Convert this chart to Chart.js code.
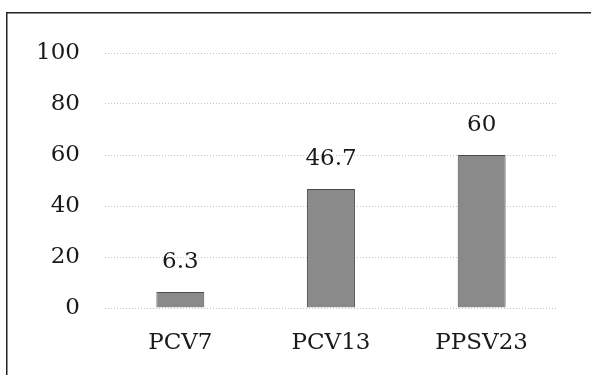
<!DOCTYPE html>
<html>
<head>
<meta charset="utf-8">
<script src="https://cdn.jsdelivr.net/npm/chart.js@4/dist/chart.umd.min.js"></script>
<style>
  html, body { margin: 0; padding: 0; background: #fff; }
  #wrap { width: 591px; height: 375px; position: relative; }
</style>
</head>
<body>
<div id="wrap"><canvas id="c" width="591" height="375"></canvas></div>
<script>
// Vaccine categories and their values (%)
const categories = ['PCV7', 'PCV13', 'PPSV23'];
const values = [6.3, 46.7, 60];
const yTicks = [0, 20, 40, 60, 80, 100];

const serif = '"DejaVu Serif", "Liberation Serif", serif';

// Left/top frame line around the figure
const framePlugin = {
  id: 'frame',
  afterDraw(chart) {
    const ctx = chart.ctx;
    ctx.save();
    ctx.strokeStyle = '#222';
    ctx.lineWidth = 1.5;
    ctx.beginPath();
    ctx.moveTo(6.75, chart.height);
    ctx.lineTo(6.75, 12.75);
    ctx.lineTo(chart.width, 12.75);
    ctx.stroke();
    ctx.restore();
  }
};

// Value labels above each bar
const valueLabels = {
  id: 'valueLabels',
  afterDatasetsDraw(chart) {
    const ctx = chart.ctx;
    const meta = chart.getDatasetMeta(0);
    ctx.save();
    ctx.font = '23px ' + serif;
    ctx.fillStyle = '#1a1a1a';
    ctx.textAlign = 'center';
    ctx.textBaseline = 'middle';
    meta.data.forEach((bar, i) => {
      ctx.fillText(String(values[i]), bar.x, bar.y - 30);
    });
    ctx.restore();
  }
};

new Chart(document.getElementById('c'), {
  type: 'bar',
  data: {
    labels: categories,
    datasets: [{
      data: values,
      backgroundColor: '#8a8a8a',
      borderColor: '#4a4a4a',
      borderWidth: 1,
      barPercentage: 0.318,
      categoryPercentage: 1
    }]
  },
  options: {
    responsive: false,
    animation: false,
    layout: { padding: { top: 53, right: 34, bottom: 0, left: 0 } },
    plugins: { legend: { display: false }, tooltip: { enabled: false } },
    scales: {
      x: {
        grid: { display: false, drawTicks: false },
        border: { display: false },
        ticks: { font: { family: serif, size: 23 }, color: '#1a1a1a', padding: 21 },
        afterFit(scale) { scale.height = 67; }
      },
      y: {
        min: 0,
        max: 100,
        afterBuildTicks(scale) { scale.ticks = yTicks.map(v => ({ value: v })); },
        grid: { color: '#c4c4c4', lineWidth: 1, drawTicks: false },
        border: { display: false, dash: [1, 2] },
        ticks: { font: { family: serif, size: 23 }, color: '#1a1a1a', padding: 25 },
        afterFit(scale) { scale.width = 105; }
      }
    }
  },
  plugins: [framePlugin, valueLabels]
});
</script>
</body>
</html>
